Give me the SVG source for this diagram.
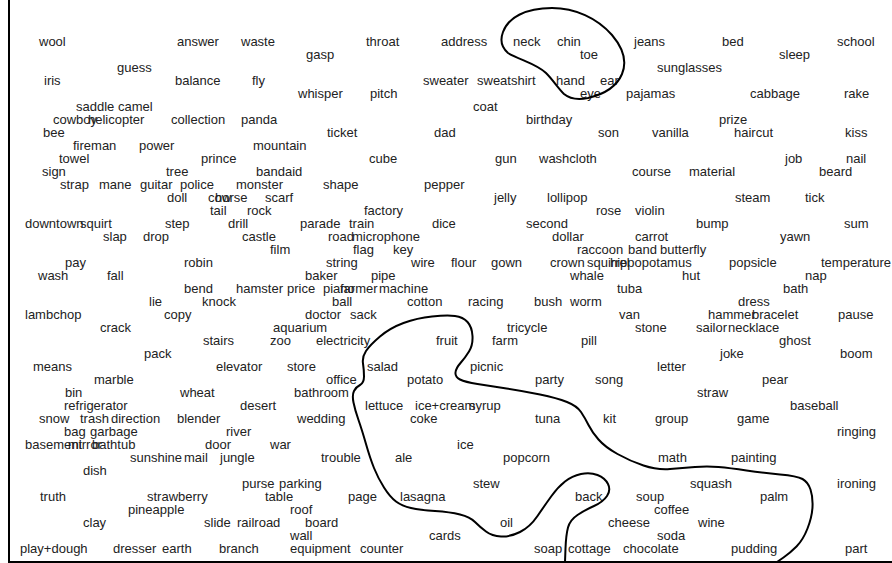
<svg xmlns="http://www.w3.org/2000/svg" width="892" height="563" viewBox="0 0 892 563">
<style>
text{font-family:"Liberation Sans",Arial,sans-serif;font-size:13px;fill:#222}
.curve{fill:none;stroke:#000;stroke-width:2;stroke-linejoin:round;stroke-linecap:round}
.frame{fill:none;stroke:#000;stroke-width:2}
</style>
<rect width="892" height="563" fill="#fff"/>
<path class="frame" d="M9,0 V562 H892"/>
<g id="words">
<text x="39" y="46">wool</text><text x="177" y="46">answer</text><text x="241" y="46">waste</text><text x="366" y="46">throat</text><text x="441" y="46">address</text><text x="513" y="46">neck</text><text x="557" y="46">chin</text><text x="634" y="46">jeans</text><text x="722" y="46">bed</text><text x="837" y="46">school</text>
<text x="306" y="59">gasp</text><text x="580" y="59">toe</text><text x="779" y="59">sleep</text>
<text x="117" y="72">guess</text><text x="657" y="72">sunglasses</text>
<text x="44" y="85">iris</text><text x="175" y="85">balance</text><text x="252" y="85">fly</text><text x="423" y="85">sweater</text><text x="477" y="85">sweatshirt</text><text x="556" y="85">hand</text><text x="600" y="85">ear</text>
<text x="298" y="98">whisper</text><text x="370" y="98">pitch</text><text x="580" y="98">eye</text><text x="626" y="98">pajamas</text><text x="750" y="98">cabbage</text><text x="844" y="98">rake</text>
<text x="76" y="111">saddle</text><text x="118" y="111">camel</text><text x="473" y="111">coat</text>
<text x="53" y="124">cowboy</text><text x="88" y="124">helicopter</text><text x="171" y="124">collection</text><text x="241" y="124">panda</text><text x="526" y="124">birthday</text><text x="719" y="124">prize</text>
<text x="43" y="137">bee</text><text x="327" y="137">ticket</text><text x="434" y="137">dad</text><text x="598" y="137">son</text><text x="652" y="137">vanilla</text><text x="734" y="137">haircut</text><text x="845" y="137">kiss</text>
<text x="73" y="150">fireman</text><text x="139" y="150">power</text><text x="253" y="150">mountain</text>
<text x="59" y="163">towel</text><text x="201" y="163">prince</text><text x="369" y="163">cube</text><text x="495" y="163">gun</text><text x="539" y="163">washcloth</text><text x="785" y="163">job</text><text x="846" y="163">nail</text>
<text x="42" y="176">sign</text><text x="166" y="176">tree</text><text x="256" y="176">bandaid</text><text x="632" y="176">course</text><text x="689" y="176">material</text><text x="819" y="176">beard</text>
<text x="60" y="189">strap</text><text x="99" y="189">mane</text><text x="140" y="189">guitar</text><text x="180" y="189">police</text><text x="236" y="189">monster</text><text x="323" y="189">shape</text><text x="424" y="189">pepper</text>
<text x="167" y="202">doll</text><text x="208" y="202">cow</text><text x="215" y="202">horse</text><text x="265" y="202">scarf</text><text x="494" y="202">jelly</text><text x="547" y="202">lollipop</text><text x="735" y="202">steam</text><text x="805" y="202">tick</text>
<text x="210" y="215">tail</text><text x="247" y="215">rock</text><text x="364" y="215">factory</text><text x="596" y="215">rose</text><text x="635" y="215">violin</text>
<text x="25" y="228">downtown</text><text x="80" y="228">squirt</text><text x="165" y="228">step</text><text x="228" y="228">drill</text><text x="300" y="228">parade</text><text x="349" y="228">train</text><text x="432" y="228">dice</text><text x="526" y="228">second</text><text x="696" y="228">bump</text><text x="844" y="228">sum</text>
<text x="103" y="241">slap</text><text x="143" y="241">drop</text><text x="242" y="241">castle</text><text x="328" y="241">road</text><text x="352" y="241">microphone</text><text x="552" y="241">dollar</text><text x="635" y="241">carrot</text><text x="780" y="241">yawn</text>
<text x="270" y="254">film</text><text x="353" y="254">flag</text><text x="393" y="254">key</text><text x="577" y="254">raccoon</text><text x="628" y="254">band</text><text x="660" y="254">butterfly</text>
<text x="65" y="267">pay</text><text x="184" y="267">robin</text><text x="326" y="267">string</text><text x="411" y="267">wire</text><text x="451" y="267">flour</text><text x="491" y="267">gown</text><text x="550" y="267">crown</text><text x="587" y="267">squirrel</text><text x="610" y="267">hippopotamus</text><text x="729" y="267">popsicle</text><text x="821" y="267">temperature</text>
<text x="38" y="280">wash</text><text x="107" y="280">fall</text><text x="305" y="280">baker</text><text x="371" y="280">pipe</text><text x="570" y="280">whale</text><text x="682" y="280">hut</text><text x="805" y="280">nap</text>
<text x="184" y="293">bend</text><text x="236" y="293">hamster</text><text x="287" y="293">price</text><text x="323" y="293">piano</text><text x="340" y="293">farmer</text><text x="379" y="293">machine</text><text x="617" y="293">tuba</text><text x="783" y="293">bath</text>
<text x="149" y="306">lie</text><text x="202" y="306">knock</text><text x="332" y="306">ball</text><text x="407" y="306">cotton</text><text x="468" y="306">racing</text><text x="534" y="306">bush</text><text x="570" y="306">worm</text><text x="738" y="306">dress</text>
<text x="25" y="319">lambchop</text><text x="164" y="319">copy</text><text x="305" y="319">doctor</text><text x="350" y="319">sack</text><text x="619" y="319">van</text><text x="708" y="319">hammer</text><text x="752" y="319">bracelet</text><text x="838" y="319">pause</text>
<text x="100" y="332">crack</text><text x="273" y="332">aquarium</text><text x="507" y="332">tricycle</text><text x="635" y="332">stone</text><text x="696" y="332">sailor</text><text x="728" y="332">necklace</text>
<text x="203" y="345">stairs</text><text x="270" y="345">zoo</text><text x="316" y="345">electricity</text><text x="436" y="345">fruit</text><text x="492" y="345">farm</text><text x="581" y="345">pill</text><text x="779" y="345">ghost</text>
<text x="144" y="358">pack</text><text x="720" y="358">joke</text><text x="840" y="358">boom</text>
<text x="33" y="371">means</text><text x="216" y="371">elevator</text><text x="287" y="371">store</text><text x="367" y="371">salad</text><text x="470" y="371">picnic</text><text x="657" y="371">letter</text>
<text x="94" y="384">marble</text><text x="326" y="384">office</text><text x="407" y="384">potato</text><text x="535" y="384">party</text><text x="595" y="384">song</text><text x="762" y="384">pear</text>
<text x="65" y="397">bin</text><text x="180" y="397">wheat</text><text x="294" y="397">bathroom</text><text x="697" y="397">straw</text>
<text x="64" y="410">refrigerator</text><text x="240" y="410">desert</text><text x="365" y="410">lettuce</text><text x="415" y="410">ice+cream</text><text x="469" y="410">syrup</text><text x="790" y="410">baseball</text>
<text x="39" y="423">snow</text><text x="80" y="423">trash</text><text x="111" y="423">direction</text><text x="177" y="423">blender</text><text x="297" y="423">wedding</text><text x="410" y="423">coke</text><text x="535" y="423">tuna</text><text x="603" y="423">kit</text><text x="655" y="423">group</text><text x="737" y="423">game</text>
<text x="64" y="436">bag</text><text x="90" y="436">garbage</text><text x="226" y="436">river</text><text x="837" y="436">ringing</text>
<text x="25" y="449">basement</text><text x="68" y="449">mirror</text><text x="92" y="449">bathtub</text><text x="205" y="449">door</text><text x="270" y="449">war</text><text x="457" y="449">ice</text>
<text x="130" y="462">sunshine</text><text x="184" y="462">mail</text><text x="220" y="462">jungle</text><text x="321" y="462">trouble</text><text x="395" y="462">ale</text><text x="503" y="462">popcorn</text><text x="658" y="462">math</text><text x="731" y="462">painting</text>
<text x="83" y="475">dish</text>
<text x="242" y="488">purse</text><text x="279" y="488">parking</text><text x="473" y="488">stew</text><text x="690" y="488">squash</text><text x="837" y="488">ironing</text>
<text x="40" y="501">truth</text><text x="147" y="501">strawberry</text><text x="265" y="501">table</text><text x="348" y="501">page</text><text x="400" y="501">lasagna</text><text x="575" y="501">back</text><text x="636" y="501">soup</text><text x="760" y="501">palm</text>
<text x="128" y="514">pineapple</text><text x="290" y="514">roof</text><text x="654" y="514">coffee</text>
<text x="83" y="527">clay</text><text x="204" y="527">slide</text><text x="237" y="527">railroad</text><text x="305" y="527">board</text><text x="500" y="527">oil</text><text x="608" y="527">cheese</text><text x="698" y="527">wine</text>
<text x="290" y="540">wall</text><text x="429" y="540">cards</text><text x="657" y="540">soda</text>
<text x="20" y="553">play+dough</text><text x="113" y="553">dresser</text><text x="162" y="553">earth</text><text x="219" y="553">branch</text><text x="290" y="553">equipment</text><text x="360" y="553">counter</text><text x="534" y="553">soap</text><text x="568" y="553">cottage</text><text x="623" y="553">chocolate</text><text x="731" y="553">pudding</text><text x="845" y="553">part</text>
</g>
<g id="curves">
<path id="loop-top" class="curve" d="M503,32 C508,18 525,8 552,8 C575,8 597,18 612,35 C623,48 627,62 622,74 C617,86 605,94 588,98 C578,100 570,99 564,94 C558,88 553,80 546,73 C537,64 520,60 508,53 C501,47 500,40 503,32 Z"/>
<path id="loop-bottom" class="curve" d="M565,562 L565.5,548.5 Q566,535 568,527.5 Q570,520 577.5,515 Q585,510 594,506 Q603,502 607,496 Q611,490 608,484 Q605,478 597.5,475 Q590,472 581,474 Q572,476 565,481.5 Q558,487 551.5,496 Q545,505 537.5,516 Q530,527 520,532 Q510,537 501,536.5 Q492,536 486,531.5 Q480,527 475,522 Q470,517 460,514.5 Q450,512 435,511 Q420,510 411,508 Q402,506 396,501.5 Q390,497 384,487.5 Q378,478 374,468 Q370,458 366,444 Q362,430 358.5,420 Q355,410 353.5,402.5 Q352,395 354,391 Q356,387 360,385 Q364,383 364,376.5 Q364,370 363,363.5 Q362,357 366,351 Q370,345 380,336.5 Q390,328 403.5,323 Q417,318 432,316.5 Q447,315 455,316 Q463,317 467.5,322 Q472,327 472.5,336 Q473,345 469,351.5 Q465,358 460.5,363 Q456,368 455.5,372.5 Q455,377 460,379.5 Q465,382 477.5,384 Q490,386 506.5,388.5 Q523,391 540,394.5 Q557,398 567,402 Q577,406 581,412 Q585,418 588.5,425 Q592,432 598.5,439.5 Q605,447 617.5,454 Q630,461 643.5,465.5 Q657,470 670,469 Q683,468 695,467 Q707,466 718.5,467 Q730,468 746.5,470.5 Q763,473 780,474.5 Q797,476 802.5,479 Q808,482 810.5,489.5 Q813,497 812.5,507 Q812,517 807.5,528.5 Q803,540 796.5,546.5 Q790,553 783.5,557.5 L777,562"/>
</g>
</svg>
